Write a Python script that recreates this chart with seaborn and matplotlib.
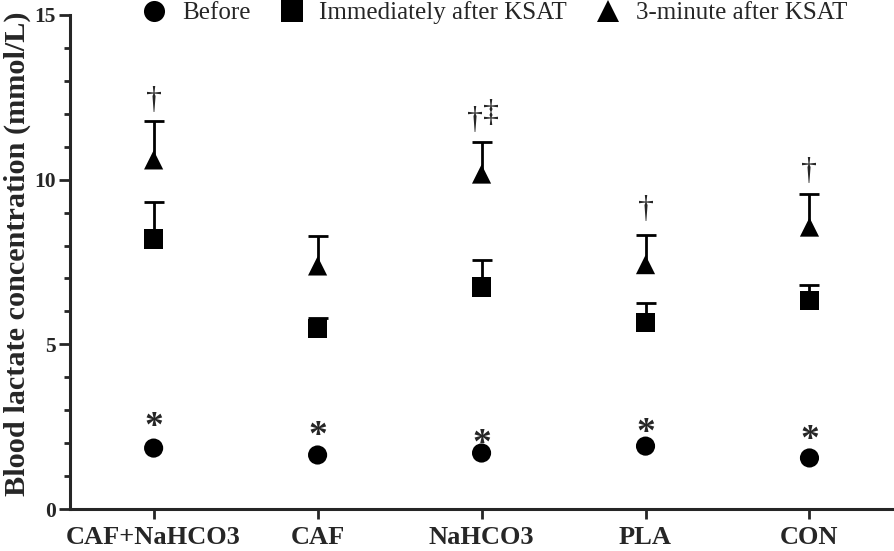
import numpy as np
import pandas as pd
import matplotlib
matplotlib.use("Agg")
import matplotlib.pyplot as plt
from matplotlib.ticker import MultipleLocator
import seaborn as sns

groups = ["CAF+NaHCO3", "CAF", "NaHCO3", "PLA", "CON"]
times = ["Before", "Immediately after KSAT", "3-minute after KSAT"]

before = [1.85, 1.64, 1.70, 1.91, 1.55]
immediate = [8.20, 5.48, 6.74, 5.66, 6.34]
immediate_sd = [1.12, 0.32, 0.81, 0.61, 0.46]
three_min = [10.60, 7.38, 10.17, 7.42, 8.56]
three_min_sd = [1.18, 0.91, 0.97, 0.90, 1.01]

# significance marks
star_marks = ["*", "*", "*", "*", "*"]
dagger_marks = ["†", "", "†", "†", "†"]
ddagger_marks = ["", "", "‡", "", ""]

df = pd.DataFrame({
    "group": groups * 3,
    "time": np.repeat(times, len(groups)),
    "lactate": before + immediate + three_min,
})

sns.set_style("ticks")
plt.rcParams["font.family"] = ["Liberation Serif", "DejaVu Serif"]

fig = plt.figure(figsize=(8.94, 5.51), dpi=100)
ax = fig.add_axes([0.0783, 0.0762, 0.9207, 0.8966])

# error bars (upper only) behind markers
x = np.arange(len(groups))
for vals, sd in [(immediate, immediate_sd), (three_min, three_min_sd)]:
    eb = ax.errorbar(x, vals, yerr=[np.zeros(len(sd)), sd], fmt="none", ecolor="black",
                     elinewidth=2, capsize=7.5, capthick=2, zorder=2)
    eb[1][0].set_visible(False)  # drop lower caps

sns.scatterplot(data=df, x="group", y="lactate", hue="time", style="time",
                markers={"Before": "o", "Immediately after KSAT": "s", "3-minute after KSAT": "^"},
                palette=["black"] * 3, s=190, edgecolor="black", linewidth=0,
                zorder=3, ax=ax, legend=True)

# asterisks above the "before" points
star_off = [30, 28, 18, 22, 27]
for i, m in enumerate(star_marks):
    ax.annotate(m, (i, before[i]), xytext=(0, star_off[i] * 0.72 - 7), textcoords="offset points",
                ha="center", va="center", fontsize=27, fontweight="bold")

# daggers above 3-minute error bars
dag_off = [21, 22, 22, 25, 22]
for i in range(len(groups)):
    top = three_min[i] + three_min_sd[i]
    if ddagger_marks[i]:
        ax.annotate(dagger_marks[i], (i, top), xytext=(-5, dag_off[i] * 0.72), textcoords="offset points",
                    ha="center", va="center", fontsize=23)
        ax.annotate(ddagger_marks[i], (i, top), xytext=(6.5, dag_off[i] * 0.72 + 5), textcoords="offset points",
                    ha="center", va="center", fontsize=23)
    elif dagger_marks[i]:
        ax.annotate(dagger_marks[i], (i, top), xytext=(0, dag_off[i] * 0.72), textcoords="offset points",
                    ha="center", va="center", fontsize=23)

ax.set_xlim(-0.51, 4.51)
ax.set_ylim(0, 15)
ax.set_yticks([0, 5, 10, 15])
ax.yaxis.set_minor_locator(MultipleLocator(1))
ax.set_xlabel("")
ax.set_ylabel("Blood lactate concentration (mmol/L)", fontsize=21.8, fontweight="bold")
ax.yaxis.set_label_coords(-0.047, 0.516)

sns.despine(ax=ax)
for sp in ["left", "bottom"]:
    ax.spines[sp].set_linewidth(2.2)
ax.tick_params(axis="y", which="major", length=8, width=2, pad=2, labelsize=15.5)
ax.tick_params(axis="y", which="minor", length=4, width=2)
ax.tick_params(axis="x", which="major", length=7.5, width=2, pad=5, labelsize=19)
for lab in ax.get_xticklabels() + ax.get_yticklabels():
    lab.set_fontweight("bold")

handles, labels = ax.get_legend_handles_labels()
ax.get_legend().remove()
fig.legend(handles, labels, loc="center", bbox_to_anchor=(0.553, 1 - 13 / 551), ncol=3,
           frameon=False, fontsize=18, handlelength=1.0, handletextpad=0.6,
           columnspacing=1.15, markerscale=1.1, borderaxespad=0, borderpad=0)

fig.savefig("out.png", dpi=100)
